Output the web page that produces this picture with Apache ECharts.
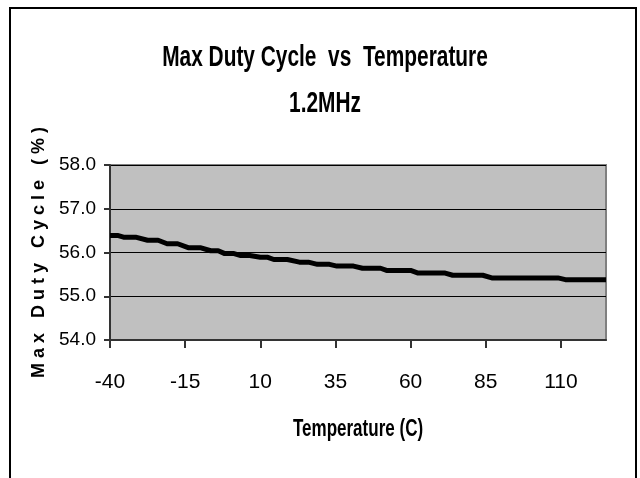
<!DOCTYPE HTML>
<html>
<head>
<meta http-equiv="Content-Type" content="text/html; charset=utf-8">
<title>Max Duty Cycle vs Temperature</title>
<script type="text/javascript" src="https://cdn.jsdelivr.net/npm/echarts@6/dist/echarts.min.js"></script>
<style>
  html, body { margin: 0; padding: 0; background: #fff; }
  #chart { width: 640px; height: 478px; }
</style>
</head>
<body>
<div id="chart"></div>
<script type="text/javascript">
  // temperature (C) where the curve changes
  var temps = [-40, -37.5, -35.5, -31.5, -27.5, -24, -21, -17.5, -14, -10, -6.5, -4, -2, 1,
               3.5, 6.5, 10, 12.5, 14.5, 19, 23, 26, 29, 33, 35.5, 41, 44, 50, 52, 60,
               62.5, 71.5, 74, 84, 87, 109, 111.5, 125];
  // max duty cycle (%)
  var duty = [56.39, 56.39, 56.35, 56.35, 56.28, 56.28, 56.2, 56.2, 56.11, 56.11, 56.04, 56.04, 55.98, 55.98,
              55.93, 55.93, 55.89, 55.89, 55.84, 55.84, 55.78, 55.78, 55.73, 55.73, 55.69, 55.69, 55.64, 55.64, 55.59, 55.59,
              55.53, 55.53, 55.48, 55.48, 55.42, 55.42, 55.38, 55.38];
  var xTicks = [-40, -15, 10, 35, 60, 85, 110];

  var sans = "'Liberation Sans', Arial, sans-serif";

  var points = [];
  for (var i = 0; i < temps.length; i++) {
    points.push([temps[i], duty[i]]);
  }

  // the original text is a squeezed Arial, so titles are drawn narrowed
  function squeezed(str, x, y, size, sx) {
    return {
      type: 'text', x: x, y: y, scaleX: sx, silent: true,
      style: {
        text: str, font: 'bold ' + size + 'px ' + sans, fill: '#000',
        textAlign: 'center', textVerticalAlign: 'middle'
      }
    };
  }

  var chart = echarts.init(document.getElementById('chart'));
  chart.setOption({
    animation: false,
    backgroundColor: '#fff',
    graphic: [
      {
        type: 'rect',
        shape: { x: 10, y: 8, width: 626, height: 490 },
        style: { fill: null, stroke: '#000', lineWidth: 2 },
        silent: true
      },
      squeezed('Max Duty Cycle  vs  Temperature', 325, 58, 29, 0.72),
      squeezed('1.2MHz', 325, 104, 29, 0.72),
      squeezed('Temperature (C)', 358, 430, 23, 0.74)
    ],
    grid: {
      left: 110, right: 34, top: 165, bottom: 138,
      show: true,
      backgroundColor: '#C0C0C0',
      borderColor: '#808080',
      borderWidth: 2,
      outerBoundsMode: 'none'
    },
    xAxis: {
      type: 'value',
      min: -40,
      max: 125,
      axisLine: { show: true, onZero: false, lineStyle: { color: '#333', width: 2 } },
      axisTick: { show: true, length: 8, customValues: xTicks, lineStyle: { color: '#333', width: 2 } },
      axisLabel: { customValues: xTicks, margin: 32, fontFamily: sans, fontSize: 21, color: '#000' },
      splitLine: { show: false }
    },
    yAxis: {
      type: 'value',
      min: 54,
      max: 58,
      interval: 1,
      name: 'M a x   D u t y   C y c l e   ( % )',
      nameLocation: 'middle',
      nameRotate: 90,
      nameGap: 58,
      nameTextStyle: { fontFamily: sans, fontWeight: 'bold', fontSize: 18, color: '#000' },
      axisLine: { show: true, onZero: false, lineStyle: { color: '#333', width: 2 } },
      axisTick: { show: true, length: 6, lineStyle: { color: '#333', width: 2 } },
      axisLabel: {
        margin: 14, fontFamily: sans, fontSize: 19, color: '#000',
        formatter: function (v) { return v.toFixed(1); }
      },
      splitLine: { show: true, lineStyle: { color: '#000', width: 1 } }
    },
    series: [{
      type: 'line',
      data: points,
      showSymbol: false,
      symbol: 'none',
      lineStyle: { color: '#000', width: 5, join: 'round' }
    }]
  });
</script>
</body>
</html>
